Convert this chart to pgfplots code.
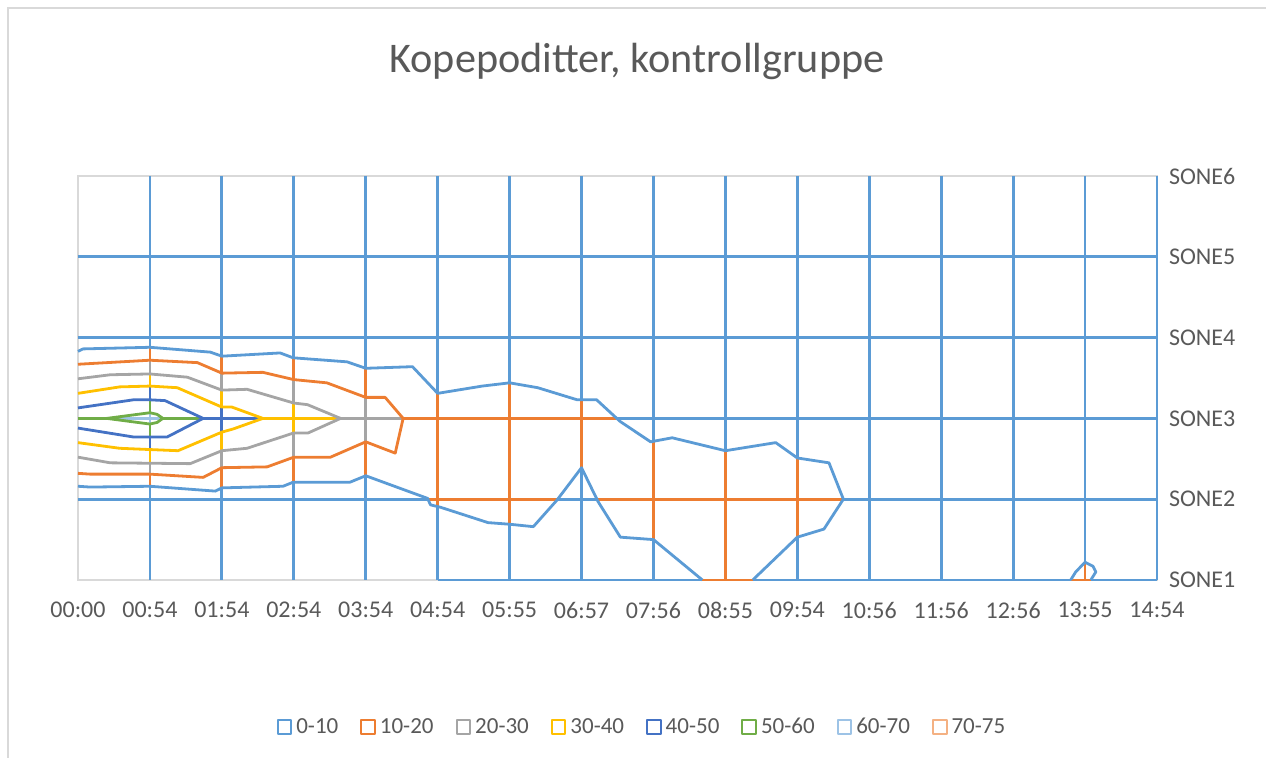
\documentclass[border=0pt]{standalone}
\usepackage{fontspec}
\setmainfont{Carlito}
\usepackage{pgfplots}
\pgfplotsset{compat=1.18}

\definecolor{c0}{HTML}{5B9BD5}
\definecolor{c1}{HTML}{ED7D31}
\definecolor{c2}{HTML}{A5A5A5}
\definecolor{c3}{HTML}{FFC000}
\definecolor{c4}{HTML}{4472C4}
\definecolor{c5}{HTML}{70AD47}
\definecolor{c6}{HTML}{9DC3E6}
\definecolor{c7}{HTML}{F4B183}
\definecolor{txt}{HTML}{595959}
\definecolor{frame}{HTML}{D9D9D9}

\begin{document}
\begin{tikzpicture}
\useasboundingbox (-39pt,-89pt) rectangle (594pt,290pt);
\draw[frame, line width=0.6pt] (-35pt,-89pt) -- (-35pt,286pt) -- (594pt,286pt);
\begin{axis}[
    at={(0,0)}, anchor=south west,
    scale only axis,
    width=539.5pt, height=202pt,
    xmin=0, xmax=15, ymin=1, ymax=6,
    clip=false,
    unbounded coords=jump,
    axis line style={frame, line width=1pt},
    major tick length=0pt,
    xtick={0,...,15},
    xticklabels={00:00,00:54,01:54,02:54,03:54,04:54,05:55,06:57,07:56,08:55,09:54,10:56,11:56,12:56,13:55,14:54},
    ytick={1,...,6},
    yticklabels={SONE1,SONE2,SONE3,SONE4,SONE5,SONE6},
    yticklabel pos=right,
    tick label style={font=\fontsize{12}{14}\selectfont, text=txt},
    xticklabel style={yshift=-7.5pt},
    yticklabel style={xshift=2.5pt},
    every axis plot/.append style={line width=1.4pt, line join=round, no markers, forget plot},
    legend columns=8,
    legend style={at={(0.5236,-0.364)}, anchor=center, draw=none,
        font=\fontsize{11.5}{14}\selectfont, text=txt,
        /tikz/every even column/.append style={column sep=9pt},
        inner sep=0pt},
    legend image code/.code={\draw[#1, line width=1pt, fill=white] (0pt,-3.4pt) rectangle (6.8pt,3.4pt);},
]
% grid, 0-10
\addplot[c0] coordinates {
(1,6)(1,3.88)(0,nan)(1,2.16)(1,1)(0,nan)
(2,6)(2,3.77)(0,nan)(2,2.14)(2,1)(0,nan)
(3,6)(3,3.75)(0,nan)(3,2.21)(3,1)(0,nan)
(4,6)(4,3.62)(0,nan)(4,2.29)(4,1)(0,nan)
(5,6)(5,3.31)(0,nan)(5,1.90)(5,1)(0,nan)
(6,6)(6,3.44)(0,nan)(6,1.69)(6,1)(0,nan)
(7,6)(7,3.23)(0,nan)(7,2.39)(7,1)(0,nan)
(8,6)(8,2.71)(0,nan)(8,1.50)(8,1)(0,nan)
(9,6)(9,2.60)(0,nan)
(10,6)(10,2.51)(0,nan)(10,1.53)(10,1)(0,nan)
(11,6)(11,1)(0,nan)(12,6)(12,1)(0,nan)(13,6)(13,1)(0,nan)
(14,6)(14,1.22)(0,nan)(15,6)(15,1)(0,nan)
(0,5)(15,5)(0,nan)(0,4)(15,4)(0,nan)(7.49,3)(15,3)(0,nan)
(0,2)(4.86,2)(0,nan)(6.66,2)(7.23,2)(0,nan)(10.64,2)(15,2)(0,nan)
(5,1)(8.68,1)(0,nan)(9.38,1)(13.80,1)(0,nan)(14.08,1)(15,1)
};
% grid, 10-20
\addplot[c1] coordinates {
(1,3.88)(1,3.72)(0,nan)(1,2.31)(1,2.16)(0,nan)
(2,3.77)(2,3.56)(0,nan)(2,2.39)(2,2.14)(0,nan)
(3,3.75)(3,3.48)(0,nan)(3,2.52)(3,2.21)(0,nan)
(4,3.62)(4,3.26)(0,nan)(4,2.71)(4,2.29)(0,nan)
(5,3.31)(5,1.90)(0,nan)(6,3.44)(6,1.69)(0,nan)(7,3.23)(7,2.39)(0,nan)
(8,2.71)(8,1.50)(0,nan)(9,2.60)(9,1)(0,nan)(10,2.51)(10,1.53)(0,nan)
(14,1.22)(14,1)(0,nan)
(4.52,3)(7.49,3)(0,nan)(4.86,2)(6.66,2)(0,nan)(7.23,2)(10.64,2)(0,nan)
(8.68,1)(9.38,1)(0,nan)(13.80,1)(14.08,1)
};
% grid, 20-30
\addplot[c2] coordinates {
(1,3.72)(1,3.55)(0,nan)(1,2.46)(1,2.31)(0,nan)
(2,3.56)(2,3.35)(0,nan)(2,2.60)(2,2.39)(0,nan)
(3,3.48)(3,3.19)(0,nan)(3,2.82)(3,2.52)(0,nan)
(4,3.26)(4,2.71)(0,nan)(3.65,3)(4.52,3)
};
% grid, 30-40
\addplot[c3] coordinates {
(1,3.55)(1,3.40)(0,nan)(1,2.62)(1,2.46)(0,nan)
(2,3.35)(2,3.14)(0,nan)(2,2.83)(2,2.60)(0,nan)
(3,3.19)(3,2.82)(0,nan)(2.57,3)(3.65,3)
};
% grid, 40-50
\addplot[c4] coordinates {
(1,3.40)(1,3.23)(0,nan)(1,2.77)(1,2.62)(0,nan)
(2,3.14)(2,2.83)(0,nan)(1.74,3)(2.57,3)
};
% grid, 50-60
\addplot[c5] coordinates {
(1,3.23)(1,3.07)(0,nan)(1,2.93)(1,2.77)(0,nan)
(0,3)(0.40,3)(0,nan)(1.18,3)(1.74,3)
};
% grid, 60-70
\addplot[c6] coordinates {
(1,3.07)(1,2.93)(0,nan)(0.40,3)(1.18,3)
};
% contour 10
\addplot[c0] coordinates {
(0,3.83)(0.07,3.86)(1,3.88)(1.84,3.82)(2,3.77)(2.81,3.81)(2.99,3.75)
(3.74,3.70)(4,3.62)(4.65,3.64)(5,3.31)(5.62,3.40)(6,3.44)(6.39,3.38)
(6.94,3.23)(7.21,3.23)(7.49,3.00)(7.54,2.96)(7.96,2.71)(8.26,2.76)
(9,2.60)(9.70,2.70)(10,2.51)(10.44,2.45)(10.64,2.00)(10.37,1.63)
(10,1.53)(9.38,1.00)
};
\addplot[c0] coordinates {
(8.68,1.00)(8,1.50)(7.54,1.53)(7.23,1.97)(7,2.39)(6.66,1.99)(6.33,1.66)
(6,1.69)(5.70,1.71)(5.04,1.90)(4.90,1.93)(4.86,2.01)(4,2.29)(3.78,2.21)
(2.99,2.21)(2.85,2.16)(2,2.14)(1.91,2.10)(1,2.16)(0.17,2.15)(0,2.16)
};
\addplot[c0] coordinates {
(13.80,1.00)(13.87,1.10)(14,1.22)(14.11,1.17)(14.15,1.10)(14.08,1.00)
};
% contour 20
\addplot[c1] coordinates {
(0,3.67)(1,3.72)(1.66,3.69)(2,3.56)(2.57,3.57)(3,3.48)(3.46,3.44)
(4,3.26)(4.27,3.26)(4.52,3.00)(4.41,2.57)(4,2.71)(3.51,2.52)(3,2.52)
(2.63,2.40)(2,2.39)(1.74,2.27)(1,2.31)(0.17,2.31)(0,2.32)
};
% contour 30
\addplot[c2] coordinates {
(0,3.49)(0.45,3.54)(1,3.55)(1.52,3.51)(2,3.35)(2.35,3.36)(3,3.19)
(3.19,3.17)(3.65,3.00)(3.20,2.82)(3,2.82)(2.35,2.63)(2,2.60)(1.56,2.44)
(0.45,2.45)(0,2.52)
};
% contour 40
\addplot[c3] coordinates {
(0,3.31)(0.58,3.39)(1,3.40)(1.38,3.38)(2,3.14)(2.14,3.14)(2.57,3.00)
(2.16,2.87)(2,2.83)(1.39,2.60)(0.58,2.63)(0,2.70)
};
% contour 50
\addplot[c4] coordinates {
(0,3.13)(0.77,3.23)(1,3.23)(1.21,3.22)(1.74,3.00)(1.24,2.77)(1,2.77)
(0.77,2.77)(0,2.88)
};
% contour 60
\addplot[c5] coordinates {
(0.40,3.00)(1,3.07)(1.10,3.05)(1.18,3.00)(1.10,2.95)(1,2.93)(0.40,3.00)
};
\addlegendimage{c0}\addlegendentry{0-10}
\addlegendimage{c1}\addlegendentry{10-20}
\addlegendimage{c2}\addlegendentry{20-30}
\addlegendimage{c3}\addlegendentry{30-40}
\addlegendimage{c4}\addlegendentry{40-50}
\addlegendimage{c5}\addlegendentry{50-60}
\addlegendimage{c6}\addlegendentry{60-70}
\addlegendimage{c7}\addlegendentry{70-75}
\end{axis}
\node[font=\fontsize{21.1}{25}\selectfont, text=txt] at (279.5pt,259.5pt) {Kopepoditter, kontrollgruppe};
\end{tikzpicture}
\end{document}
